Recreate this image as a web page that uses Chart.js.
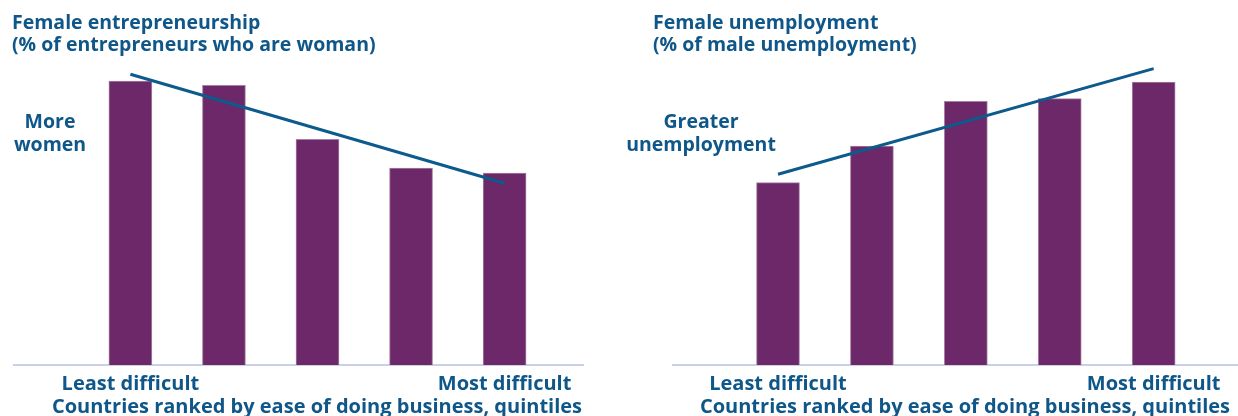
<!DOCTYPE html>
<html>
<head>
<meta charset="utf-8">
<script src="https://cdn.jsdelivr.net/npm/chart.js@4"></script>
<style>
  body { margin: 0; background: #fff; width: 1238px; height: 416px; overflow: hidden; position: relative;
         font-family: "Open Sans", sans-serif; font-weight: 700; color: #0f5689; }
  canvas { position: absolute; top: 0; }
  .txt { position: absolute; white-space: nowrap; }
  .title { font-size: 19.5px; line-height: 21.5px; }
  .note { font-size: 19.5px; line-height: 23.4px; text-align: center; width: 200px; }
  .caption { font-size: 20px; line-height: 24px; text-align: center; width: 700px; }
</style>
</head>
<body>
<canvas id="leftChart" width="619" height="416" style="left:0"></canvas>
<canvas id="rightChart" width="619" height="416" style="left:619px"></canvas>

<div class="txt title" style="left:12px; top:11px">Female entrepreneurship<br>(% of entrepreneurs who are woman)</div>
<div class="txt note" style="left:-50px; top:109px">More<br>women</div>
<div class="txt caption" style="left:-33px; top:394px">Countries ranked by ease of doing business, quintiles</div>

<div class="txt title" style="left:653px; top:11px">Female unemployment<br>(% of male unemployment)</div>
<div class="txt note" style="left:601px; top:109px">Greater<br>unemployment</div>
<div class="txt caption" style="left:615px; top:394px">Countries ranked by ease of doing business, quintiles</div>

<script>
// quintiles of ease of doing business (1 = least difficult)
const quintiles = [1, 2, 3, 4, 5];
const endLabels = ['Least difficult', 'Most difficult'];

// values (relative index, no axis shown)
const entrepreneurship = [94.6, 93.2, 75.2, 65.6, 64.0];
const entrepreneurshipTrend = [96.9, 60.6];
const unemployment = [60.8, 73.0, 87.9, 88.8, 94.3];
const unemploymentTrend = [63.6, 98.8];

const purple = '#6c2868';
const blue = '#0d5a8c';

function makeChart(id, values, trend, xMin, xMax, padLeft, padRight) {
  new Chart(document.getElementById(id), {
    type: 'bar',
    data: {
      datasets: [
        {
          type: 'line',
          data: [
            { x: quintiles[0], y: trend[0] },
            { x: quintiles[quintiles.length - 1], y: trend[1] }
          ],
          borderColor: blue,
          borderWidth: 3,
          pointRadius: 0,
          fill: false,
          order: 0
        },
        {
          data: quintiles.map((q, i) => ({ x: q, y: values[i] })),
          backgroundColor: purple,
          borderColor: '#a680a3',
          borderWidth: 1,
          barThickness: 43,
          order: 1
        }
      ]
    },
    options: {
      responsive: false,
      animation: false,
      layout: { padding: { left: padLeft, right: padRight, top: 65, bottom: 13 } },
      plugins: { legend: { display: false }, tooltip: { enabled: false } },
      scales: {
        x: {
          type: 'linear',
          min: xMin,
          max: xMax,
          offset: false,
          grid: { display: false, drawTicks: false, offset: false },
          border: { display: true, color: '#c9d0ea', width: 2 },
          afterBuildTicks: (scale) => {
            scale.ticks = [{ value: quintiles[0] }, { value: quintiles[quintiles.length - 1] }];
          },
          ticks: {
            autoSkip: false,
            maxRotation: 0,
            padding: 7,
            color: '#0f5689',
            font: { family: '"Open Sans", sans-serif', size: 20, weight: 'bold' },
            callback: (v) => (v === quintiles[0] ? endLabels[0] : endLabels[1])
          }
        },
        y: { display: false, min: 0, max: 100 }
      }
    }
  });
}

makeChart('leftChart', entrepreneurship, entrepreneurshipTrend, -0.244, 5.838, 14, 36);
makeChart('rightChart', unemployment, unemploymentTrend, -0.118, 5.898, 54, 0);
</script>
</body>
</html>
